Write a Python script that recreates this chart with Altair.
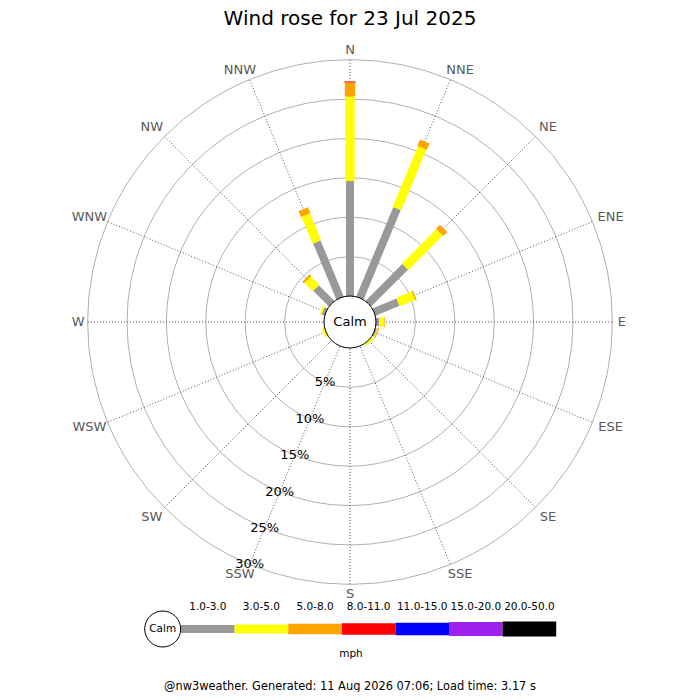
import math

import pandas as pd
import altair as alt

TITLE = "Wind rose for 23 Jul 2025"
FOOTER = "@nw3weather. Generated: 11 Aug 2026 07:06; Load time: 3.17 s"
FONT = "DejaVu Sans"

directions = ["N", "NNE", "NE", "ENE", "E", "ESE", "SE", "SSE",
              "S", "SSW", "SW", "WSW", "W", "WNW", "NW", "NNW"]
speed_bands = ["1.0-3.0", "3.0-5.0", "5.0-8.0", "8.0-11.0",
               "11.0-15.0", "15.0-20.0", "20.0-50.0"]
band_colors = ["#999999", "#ffff00", "#ffa500", "#ff0000",
               "#0000ff", "#a020f0", "#000000"]
band_widths = [8, 15, 21, 23, 25, 27, 29]

# % of the day from each direction, per speed band (mph)
pct_1_3 = [14.6, 12.3, 6.6, 3.3, 0.4, 0.2, 0, 0, 0, 0, 0, 0, 0, 0.4, 2.8, 7.7]
pct_3_5 = [10.7, 8.3, 6.2, 2.1, 0.6, 0.1, 0.35, 0, 0, 0, 0, 0.35, 0, 0.25, 1.5, 3.7]
pct_5_8 = [1.8, 0.9, 0.7, 0.2, 0.1, 0.15, 0, 0, 0, 0, 0, 0, 0, 0, 0.3, 0.8]
pct_8_11 = [0.13, 0, 0, 0, 0, 0, 0, 0, 0, 0, 0, 0, 0, 0, 0, 0]
pct_11_15 = [0] * 16
pct_15_20 = [0] * 16
pct_20_50 = [0] * 16
ring_pcts = [5, 10, 15, 20, 25, 30]

# layout: rose centre on the page and pixels per 1 %
K = 7.88
CX, CY = 350, 322
CALM = 26 / K
OUTER = CALM + 30
LEG_X0, LEG_W, LEG_Y = 181, 53.6, 629
SIZE = 684  # the page keeps an 8px margin on each side


def ux(px):
    return (px - CX) / K


def uy(py):
    return (CY - py) / K


xs = alt.Scale(domain=[ux(8), ux(8 + SIZE)], nice=False, zero=False)
ys = alt.Scale(domain=[uy(8 + SIZE), uy(8)], nice=False, zero=False)
rs = alt.Scale(type="linear", domain=[0, 40], range=[0, 40 * K], zero=True)
band_color = alt.Scale(domain=speed_bands, range=band_colors)
band_size = alt.Scale(domain=speed_bands, range=band_widths)


def X(field):
    return alt.X(field, type="quantitative", scale=xs, axis=None)


def Y(field):
    return alt.Y(field, type="quantitative", scale=ys, axis=None)


def R(field):
    return alt.Radius(field, type="quantitative", scale=rs, stack=None)


def single(text, x, y, size=1.0):
    # one-row table for a circle or a piece of text placed on the page
    return pd.DataFrame({"t": [text], "x": [x], "y": [y], "r": [size]})


dirs = pd.DataFrame({"dir": directions, "angle": [i * 22.5 for i in range(16)]})

series = [pct_1_3, pct_3_5, pct_5_8, pct_8_11, pct_11_15, pct_15_20, pct_20_50]
rows = []
for k, (band, vals) in enumerate(zip(speed_bands, series)):
    for i, v in enumerate(vals):
        rows.append({"dir": directions[i], "angle": i * 22.5,
                     "band": band, "k": k, "value": v})
bars_df = pd.DataFrame(rows)

rings = alt.Chart(pd.DataFrame({"pct": ring_pcts})).transform_calculate(
    r=f"{CALM} + datum.pct", cx="0", cy="0",
).mark_arc(filled=False, stroke="#b0b0b0", strokeWidth=1,
           theta=0, theta2=2 * math.pi).encode(
    x=X("cx"), y=Y("cy"), radius=R("r"),
)

spokes = alt.Chart(dirs).transform_calculate(
    a="datum.angle * PI / 180",
    x0="0", y0="0",
    x2=f"{OUTER} * sin(datum.a)",
    y2=f"{OUTER} * cos(datum.a)",
).mark_rule(color="#555555", strokeWidth=1, strokeDash=[1, 2]).encode(
    x=X("x0"), y=Y("y0"), x2="x2:Q", y2="y2:Q"
)

bars = alt.Chart(bars_df).transform_filter(
    "datum.value > 0"
).transform_window(
    cum="sum(value)", groupby=["dir"], sort=[alt.SortField("k")],
    frame=[None, 0],
).transform_calculate(
    a="datum.angle * PI / 180",
    r0=f"datum.cum - datum.value > 0 ? {CALM} + datum.cum - datum.value : 0",
    r1=f"{CALM} + datum.cum",
    x="datum.r0 * sin(datum.a)",
    y="datum.r0 * cos(datum.a)",
    x2="datum.r1 * sin(datum.a)",
    y2="datum.r1 * cos(datum.a)",
).mark_rule(strokeCap="butt").encode(
    x=X("x"), y=Y("y"), x2="x2:Q", y2="y2:Q",
    color=alt.Color("band:N", scale=band_color, legend=None),
    strokeWidth=alt.StrokeWidth("band:N", scale=band_size, legend=None),
)

calm_df = single("Calm", 0, 0, CALM)
calm = alt.Chart(calm_df).mark_arc(
    fill="white", stroke="black", strokeWidth=1, theta=0, theta2=2 * math.pi
).encode(x=X("x"), y=Y("y"), radius=R("r"))

calm_text = alt.Chart(calm_df).mark_text(
    font=FONT, fontSize=13, color="black"
).encode(x=X("x"), y=Y("y"), text="t:N")

dir_labels = alt.Chart(dirs).transform_calculate(
    a="datum.angle * PI / 180",
    s="sin(datum.a)",
    c="cos(datum.a)",
    hw="4.5 * length(datum.dir)",
    sg="datum.s > 0.01 ? 1 : (datum.s < -0.01 ? -1 : 0)",
    cg="datum.c > 0.01 ? 1 : (datum.c < -0.01 ? -1 : 0)",
    lx=f"{OUTER} * datum.s + (5 * datum.s + datum.sg * datum.hw * min(1, 1.5 * abs(datum.s))) / {K}",
    ly=f"{OUTER} * datum.c + datum.cg * min(9.5, 13 * abs(datum.c)) / {K}",
).mark_text(font=FONT, fontSize=13, color="#5a5a5a").encode(
    x=X("lx"), y=Y("ly"), text="dir:N"
)

pct_labels = alt.Chart(pd.DataFrame({"pct": ring_pcts})).transform_calculate(
    a="202.5 * PI / 180",
    label="datum.pct + '%'",
    px=f"({CALM} + datum.pct) * sin(datum.a)",
    py=f"({CALM} + datum.pct) * cos(datum.a)",
).mark_text(font=FONT, fontSize=13, color="black").encode(
    x=X("px"), y=Y("py"), text="label:N"
)

legend_df = pd.DataFrame({"band": speed_bands, "k": list(range(len(speed_bands)))})

legend_bars = alt.Chart(legend_df).transform_calculate(
    x=f"{ux(LEG_X0)} + datum.k * {LEG_W / K}",
    x2=f"{ux(LEG_X0)} + (datum.k + 1) * {LEG_W / K}",
    y=f"{uy(LEG_Y)}",
).mark_rule(strokeCap="butt").encode(
    x=X("x"), y=Y("y"), x2="x2:Q",
    color=alt.Color("band:N", scale=band_color, legend=None),
    strokeWidth=alt.StrokeWidth("band:N", scale=band_size, legend=None),
)

legend_labels = alt.Chart(legend_df).transform_calculate(
    x=f"{ux(LEG_X0)} + (datum.k + 0.5) * {LEG_W / K}",
    y=f"{uy(607)}",
).mark_text(font=FONT, fontSize=10.5, color="black").encode(
    x=X("x"), y=Y("y"), text="band:N"
)

legend_calm_df = single("Calm", ux(162.7), uy(LEG_Y), 18 / K)
legend_calm = alt.Chart(legend_calm_df).mark_arc(
    fill="white", stroke="black", strokeWidth=1, theta=0, theta2=2 * math.pi
).encode(x=X("x"), y=Y("y"), radius=R("r"))

legend_calm_text = alt.Chart(legend_calm_df).mark_text(
    font=FONT, fontSize=10.5, color="black"
).encode(x=X("x"), y=Y("y"), text="t:N")

unit_text = alt.Chart(single("mph", ux(351), uy(654))).mark_text(
    font=FONT, fontSize=10.5, color="black"
).encode(x=X("x"), y=Y("y"), text="t:N")

title = alt.Chart(single(TITLE, 0, uy(19))).mark_text(
    font=FONT, fontSize=20, color="black"
).encode(x=X("x"), y=Y("y"), text="t:N")

footer = alt.Chart(single(FOOTER, 0, uy(687))).mark_text(
    font=FONT, fontSize=11.4, color="black"
).encode(x=X("x"), y=Y("y"), text="t:N")

chart = alt.layer(
    rings, spokes, bars, calm, calm_text, dir_labels, pct_labels,
    legend_bars, legend_labels, legend_calm, legend_calm_text, unit_text,
    title, footer,
).properties(
    width=SIZE, height=SIZE,
    autosize=alt.AutoSizeParams(type="none"),
    padding=0,
    background="white",
).configure_view(stroke=None)

chart.save("out.html", embed_options={"renderer": "svg", "actions": False})
